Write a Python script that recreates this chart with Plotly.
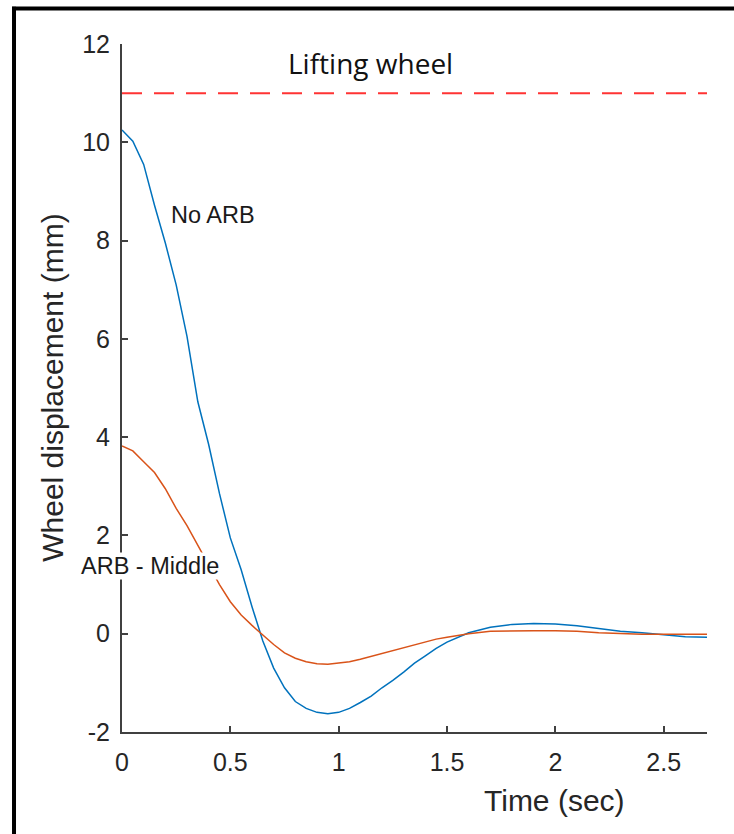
import plotly.graph_objects as go

time = [0, 0.05, 0.1, 0.15, 0.2, 0.25, 0.3, 0.35, 0.4, 0.45, 0.5, 0.55, 0.6, 0.65,
        0.7, 0.75, 0.8, 0.85, 0.9, 0.95, 1.0, 1.05, 1.1, 1.15, 1.2, 1.25, 1.3, 1.35,
        1.4, 1.45, 1.5, 1.55, 1.6, 1.7, 1.8, 1.9, 2.0, 2.1, 2.2, 2.3, 2.4, 2.5, 2.6, 2.7]

no_arb = [10.25, 10.02, 9.55, 8.72, 7.95, 7.1, 6.05, 4.72, 3.85, 2.85, 1.95, 1.3, 0.55, -0.15,
          -0.7, -1.1, -1.38, -1.52, -1.6, -1.63, -1.6, -1.52, -1.4, -1.27, -1.1, -0.95, -0.78, -0.6,
          -0.45, -0.3, -0.17, -0.07, 0.02, 0.13, 0.19, 0.21, 0.2, 0.16, 0.1, 0.05, 0.02, -0.02, -0.06, -0.07]

arb_middle = [3.82, 3.72, 3.5, 3.28, 2.95, 2.55, 2.2, 1.8, 1.4, 1.0, 0.65, 0.38, 0.17, -0.03,
              -0.22, -0.39, -0.5, -0.57, -0.61, -0.62, -0.6, -0.57, -0.52, -0.46, -0.41, -0.35, -0.28, -0.22,
              -0.16, -0.11, -0.07, -0.03, 0.0, 0.05, 0.06, 0.06, 0.06, 0.05, 0.02, 0.0, -0.01, -0.01, -0.01, -0.01]

lift_limit = 11
x_range = [0, 2.7]
y_range = [-2, 12]
x_ticks = [0, 0.5, 1, 1.5, 2, 2.5]
x_tick_labels = ["0", "0.5", "1", "1.5", "2", "2.5"]
y_ticks = [-2, 0, 2, 4, 6, 8, 10, 12]
y_tick_labels = ["-2", "0", "2", "4", "6", "8", "10", "12"]

fig = go.Figure()
fig.add_trace(go.Scatter(x=x_range, y=[lift_limit, lift_limit], mode="lines",
                         line=dict(color="#ff3333", width=2, dash="20px,12px"),
                         showlegend=False, hoverinfo="skip"))
fig.add_trace(go.Scatter(x=time, y=no_arb, mode="lines", name="No ARB",
                         line=dict(color="#0072BD", width=1.5), showlegend=False))
fig.add_trace(go.Scatter(x=time, y=arb_middle, mode="lines", name="ARB - Middle",
                         line=dict(color="#D95319", width=1.5), showlegend=False))

tick_font = dict(family="Liberation Sans, Arial, sans-serif", size=25, color="#262626")

fig.update_xaxes(range=x_range, tickvals=x_ticks, ticktext=x_tick_labels,
                 showgrid=False, zeroline=False, showline=True, linecolor="#404040",
                 linewidth=2, ticks="inside", ticklen=6, tickwidth=1.5, tickcolor="#404040",
                 tickfont=tick_font, ticklabelstandoff=7, mirror=False)
fig.update_yaxes(range=y_range, tickvals=y_ticks, ticktext=y_tick_labels,
                 showgrid=False, zeroline=False, showline=True, linecolor="#404040",
                 linewidth=2, ticks="inside", ticklen=6, tickwidth=1.5, tickcolor="#404040",
                 tickfont=tick_font, ticklabelstandoff=5, mirror=False)

title_font = dict(family="Liberation Sans, Arial, sans-serif", size=30, color="#262626")
label_font = dict(family="Liberation Sans, Arial, sans-serif", size=23.5, color="#1a1a1a")

annotations = [
    dict(text="Time (sec)", xref="paper", yref="paper", x=0.74, y=-0.099,
         showarrow=False, font=title_font, xanchor="center", yanchor="middle"),
    dict(text="Wheel displacement (mm)", xref="paper", yref="paper", x=-0.12, y=0.5,
         showarrow=False, font=title_font, textangle=-90, xanchor="center", yanchor="middle"),
    dict(text="Lifting wheel", xref="x", yref="y", x=1.145, y=11.62,
         showarrow=False, font=dict(family="Open Sans, sans-serif", size=28, color="#111111"),
         xanchor="center", yanchor="middle"),
    dict(text="No ARB", xref="x", yref="y", x=0.42, y=8.52,
         showarrow=False, font=label_font, xanchor="center", yanchor="middle"),
    dict(text="ARB - Middle", xref="x", yref="y", x=0.13, y=1.38,
         showarrow=False, font=label_font, xanchor="center", yanchor="middle",
         bgcolor="white", borderpad=0),
]

shapes = [
    dict(type="line", xref="paper", yref="paper", x0=-0.188, x1=1.1, y0=1.0515, y1=1.0515,
         line=dict(color="black", width=4)),
    dict(type="line", xref="paper", yref="paper", x0=-0.1846, x1=-0.1846, y0=1.054, y1=-0.16,
         line=dict(color="black", width=4)),
]

fig.update_layout(width=734, height=834, margin=dict(l=122, r=27, t=44, b=102),
                  plot_bgcolor="white", paper_bgcolor="white",
                  annotations=annotations, shapes=shapes, showlegend=False)

fig.write_html("out.html")
